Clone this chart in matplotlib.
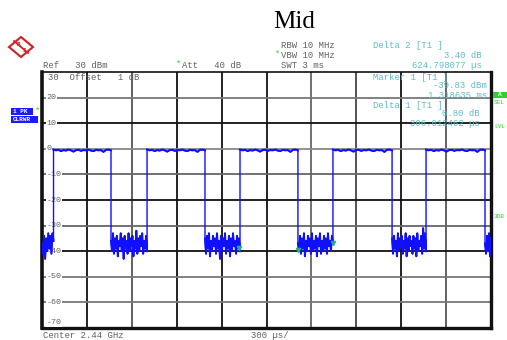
#!/usr/bin/env python3
"""
Spectrum analyzer zero-span screenshot ("Mid" channel), redrawn with matplotlib.
"""

import numpy as np
import matplotlib
matplotlib.use("Agg")
import matplotlib.pyplot as plt
from matplotlib.patches import Rectangle, Polygon

# --- data ---------------------------------------------------------------------
# time axis in microseconds (10 divisions x 300 us), level in dBm
rise_times = [77, 702, 1323, 1944, 2566]
fall_times = [461, 1089, 1710, 2339, 2960]

# ripple on top of every burst
burst_top = [-0.3, -0.6, -0.4, -0.9, -0.5, -0.7, -0.3, -0.6, -1.1, -0.5, -0.4, -0.8,
             -0.5, -0.6, -0.3, -0.7, -0.9, -0.4, -0.6, -0.5, -1.2, -0.4, -0.3, -0.6]

# noise floor between bursts
noise_0 = [-37, -41, -34, -43, -35, -40, -33, -39, -34, -41, -33, -36]
noise_1 = [-36, -40, -33, -41, -35, -39, -34, -42, -36, -38, -33, -40, -35, -43, -34, -39,
           -36, -41, -33, -40, -35, -38, -34, -42, -36, -39, -32, -41, -35, -40, -34, -38,
           -33, -41, -36, -39, -34, -40]
noise_2 = [-35, -41, -34, -39, -33, -42, -36, -40, -34, -38, -35, -41, -33, -39, -36, -43,
           -34, -40, -35, -38, -33, -41, -36, -39, -34, -42, -35, -40, -33, -38, -36, -41,
           -34, -39, -35, -40]
noise_3 = [-37, -40, -34, -41, -35, -39, -33, -42, -36, -40, -34, -38, -35, -41, -33, -40,
           -36, -39, -34, -42, -35, -38, -33, -41, -36, -40, -34, -39, -35, -41, -33, -38,
           -36, -40, -34, -37]
noise_4 = [-35, -41, -34, -39, -36, -42, -33, -40, -35, -38, -34, -41, -36, -39, -33, -42,
           -35, -40, -34, -38, -36, -41, -34, -39, -35, -42, -33, -40, -36, -38, -34, -41,
           -31, -39, -33, -40]
noise_5 = [-37, -41, -34, -40, -33, -42, -35]
noise_segments = [noise_0, noise_1, noise_2, noise_3, noise_4, noise_5]

# marker positions (us, dBm)
marker_times = [1318.6, 1710, 1943.4]
marker_levels = [-38.6, -39.5, -36.7]

y_ticks = [20, 10, 0, -10, -20, -30, -40, -50, -60, -70]

# --- layout helpers ------------------------------------------------------------
W, H = 507, 340
BLUE = "#1010ff"
GREY_TXT = "#606060"
TEAL = "#5cbcc4"
GREEN = "#30d030"
MONO = "Liberation Mono"


def fx(x):
    return x / W


def fy(y):
    return 1 - y / H


def build_trace():
    """Join noise floor and burst segments into one sweep, edges are vertical."""
    parts = []
    edges = [0] + [t for pair in zip(rise_times, fall_times) for t in pair] + [3000]
    for i in range(len(edges) - 1):
        t0, t1 = edges[i], edges[i + 1]
        vals = noise_segments[i // 2] if i % 2 == 0 else burst_top
        parts.append((np.linspace(t0, t1, len(vals)), np.array(vals), i % 2 == 1))
    return parts


fig = plt.figure(figsize=(W / 100, H / 100), dpi=100)
ax = fig.add_axes([fx(42), fy(328), 449 / W, 256 / H])
ax.set_xlim(0, 3000)
ax.set_ylim(-70, 30)
ax.set_xticks([])
ax.set_yticks([])

# grid, some lines print darker than others
v_cols = ["#111", "#555", "#111", "#111", "#111", "#666", "#444", "#111", "#555"]
for k, c in zip(range(1, 10), v_cols):
    ax.axvline(300 * k, color=c, lw=1.3, zorder=1)
h_cols = ["#777", "#111", "#888", "#666", "#111", "#666", "#111", "#777", "#777"]
for yv, c in zip(y_ticks[:-1], h_cols):
    ax.axhline(yv, color=c, lw=1.3, zorder=1)

for side, lw in [("left", 2.6), ("bottom", 2.4), ("right", 2.4), ("top", 1.2)]:
    ax.spines[side].set_linewidth(lw)
    ax.spines[side].set_color("#111")

# tick labels sit inside the frame
for yv in y_ticks:
    ypos = yv + 2 if yv == -70 else yv
    ax.text(30, ypos, f"{yv}", fontsize=6, family=MONO, color=GREY_TXT,
            ha="left", va="center", zorder=3,
            bbox=dict(facecolor="white", edgecolor="none", pad=0.3))

# one continuous sweep, noise drawn a touch heavier so it prints as a solid band
tx = np.concatenate([p[0] for p in build_trace()])
ty = np.concatenate([p[1] for p in build_trace()])
ax.plot(tx, ty, color=BLUE, lw=1.0, zorder=4)
for xs, ys, is_burst in build_trace():
    ax.plot(xs, ys, color=BLUE, lw=1.5 if is_burst else 1.4, zorder=4)
ax.plot(marker_times, marker_levels, ls="none", marker="v", ms=3,
        color="#20b080", zorder=5)

# --- header and annotations -----------------------------------------------------
fig.text(fx(294), fy(22), "Mid", family="Liberation Serif", fontsize=18,
         ha="center", va="center")

logo = Polygon([[fx(9), fy(47)], [fx(21), fy(37)], [fx(33), fy(47)], [fx(21), fy(57)]],
               closed=True, transform=fig.transFigure, facecolor="white",
               edgecolor="#d02020", lw=1.5)
fig.patches.append(logo)
fig.lines.append(plt.Line2D([fx(14), fx(28)], [fy(41), fy(53)], transform=fig.transFigure,
                            color="#d02020", lw=1.3))
fig.text(fx(18), fy(44), "R", fontsize=3.5, color="#d02020", ha="center", va="center",
         weight="bold")
fig.text(fx(24), fy(50), "S", fontsize=3.5, color="#d02020", ha="center", va="center",
         weight="bold")

small = dict(family=MONO, fontsize=6.4, va="center")
fig.text(fx(43), fy(65), "Ref   30 dBm", color=GREY_TXT, **small)
fig.text(fx(176), fy(64), "*", color=GREEN, **small)
fig.text(fx(182), fy(65), "Att   40 dB", color=GREY_TXT, **small)
fig.text(fx(281), fy(46), "RBW 10 MHz", color=GREY_TXT, **small)
fig.text(fx(275), fy(54), "*", color=GREEN, **small)
fig.text(fx(281), fy(55), "VBW 10 MHz", color=GREY_TXT, **small)
fig.text(fx(281), fy(65), "SWT 3 ms", color=GREY_TXT, **small)

fig.text(fx(373), fy(46), "Delta 2 [T1 ]", color=TEAL, **small)
fig.text(fx(482), fy(55), "3.40 dB", color=TEAL, ha="right", **small)
fig.text(fx(482), fy(65), "624.798077 \u00b5s", color=TEAL, ha="right", **small)

fig.text(fx(48), fy(77), "30  Offset   1 dB", color=GREY_TXT, **small)
fig.text(fx(373), fy(77), "Marker 1 [T1 ]", color=TEAL, **small)
fig.text(fx(487), fy(86), "-39.83 dBm", color=TEAL, ha="right", **small)
fig.text(fx(487), fy(95), "1.318635 ms", color=TEAL, ha="right", **small)
fig.text(fx(373), fy(105), "Delta 1 [T1 ]", color=TEAL, **small)
fig.text(fx(480), fy(114), "0.80 dB", color=TEAL, ha="right", **small)
fig.text(fx(480), fy(123), "306.012462 \u00b5s", color=TEAL, ha="right", **small)

fig.text(fx(43), fy(336), "Center 2.44 GHz", color=GREY_TXT, **small)
fig.text(fx(251), fy(336), "300 \u00b5s/", color=GREY_TXT, **small)

# trace info boxes on the left
for (x0, y0, x1, y1), label in [((11, 108, 33, 115), "1 PK"), ((11, 116, 38, 123), "CLRWR")]:
    fig.patches.append(Rectangle((fx(x0), fy(y1)), (x1 - x0) / W, (y1 - y0) / H,
                                 transform=fig.transFigure, facecolor="#1a1aff",
                                 edgecolor="none"))
    fig.text(fx(x0 + 2), fy((y0 + y1) / 2), label, family=MONO, fontsize=4.3,
             color="white", weight="bold", va="center")
fig.text(fx(35), fy(111), "*", color=GREEN, family=MONO, fontsize=6.4, va="center")

# status flags on the right
fig.patches.append(Rectangle((fx(493), fy(98)), 14 / W, 6 / H, transform=fig.transFigure,
                             facecolor=GREEN, edgecolor="none"))
fig.text(fx(498), fy(95), "A", family=MONO, fontsize=4.5, color="white", weight="bold",
         va="center")
for yy, lab in [(103, "SGL"), (127, "LVL"), (216, "3DB")]:
    fig.text(fx(494), fy(yy), lab, family=MONO, fontsize=4.3, color=GREEN, va="center")

fig.savefig("out.png", dpi=100)
